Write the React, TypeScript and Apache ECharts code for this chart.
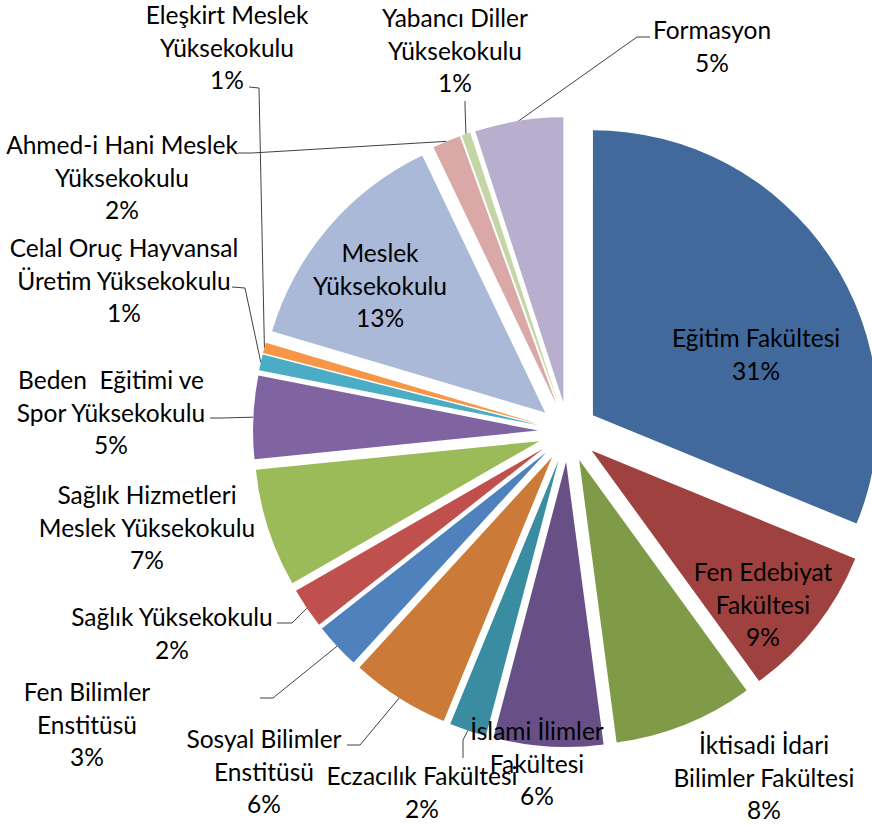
import React, { useEffect, useRef } from "react";
import * as echarts from "echarts";

// Slices clockwise from 12 o'clock
const categories = [
  "Eğitim Fakültesi",
  "Fen Edebiyat\nFakültesi",
  "İktisadi İdari\nBilimler Fakültesi",
  "İslami İlimler\nFakültesi",
  "Eczacılık Fakültesi",
  "Sosyal Bilimler\nEnstitüsü",
  "Fen Bilimler\nEnstitüsü",
  "Sağlık Yüksekokulu",
  "Sağlık Hizmetleri\nMeslek Yüksekokulu",
  "Beden  Eğitimi ve\nSpor Yüksekokulu",
  "Celal Oruç Hayvansal\nÜretim Yüksekokulu",
  "Eleşkirt Meslek\nYüksekokulu",
  "Meslek\nYüksekokulu",
  "Ahmed-i Hani Meslek\nYüksekokulu",
  "Yabancı Diller\nYüksekokulu",
  "Formasyon",
];

// Estimated shares (%)
const shares = [31.2, 8.8, 7.9, 6.2, 2.1, 5.6, 2.6, 2.3, 6.7, 4.7, 0.9, 0.6, 13.3, 1.6, 0.5, 5.0];

const colors = [
  "#41699C", "#9F413E", "#7F9B48", "#685087", "#3A8DA1", "#CB7A37",
  "#4F81BD", "#C0504D", "#9BBB59", "#8064A2", "#4BACC6", "#F79646",
  "#AAB9D7", "#D9A8A7", "#C4D6A6", "#B8AECD",
];

// Layout: label block centres and leader-line offsets (relative to label centre)
const labelCenters: [number, number][] = [
  [756, 354], [763, 604], [764, 777], [537, 763], [422, 792], [264, 771],
  [87, 724], [172, 633], [147, 527], [111, 412], [124, 280], [227, 47],
  [380, 285], [122, 177], [455, 50], [712, 46],
];
const leaders: (number[] | null)[] = [
  null, null, null, null,
  [41, -52, 41, -34],
  [96, -26, 83, -26],
  [186, -26, 173, -26],
  [120, -10, 105, -10],
  null,
  [111, 6, 99, 6],
  [121, 8, 108, 7],
  [32, 41, 22, 40],
  null,
  [130, -24, 116, -24],
  [10, 56, 10, 51],
  [-75, -9, -62, -9],
];

const CENTER = [568, 432];
const R = 285;
const OFFSET = 30;

export default function App() {
  const ref = useRef<HTMLDivElement>(null);
  useEffect(() => {
    if (!ref.current) return;
    const chart = echarts.init(ref.current, undefined, { renderer: "svg" });
    const sliceData = categories.map((name, i) => ({
      name,
      value: shares[i],
      selected: true,
      itemStyle: { color: colors[i] },
    }));
    const labelData = categories.map((name, i) => ({
      name,
      value: shares[i],
      itemStyle: { color: "rgba(0,0,0,0)" },
      labelLine: { show: !!leaders[i] },
    }));
    chart.setOption({
      animation: false,
      backgroundColor: "#fff",
      series: [
        {
          type: "pie",
          center: CENTER,
          radius: R,
          startAngle: 90,
          clockwise: true,
          selectedMode: "multiple",
          selectedOffset: OFFSET,
          silent: true,
          avoidLabelOverlap: false,
          label: { show: false },
          labelLine: { show: false },
          itemStyle: { borderWidth: 0 },
          select: { itemStyle: { borderWidth: 0 } },
          emphasis: { disabled: true },
          data: sliceData,
        },
        {
          type: "pie",
          center: CENTER,
          radius: R + OFFSET,
          startAngle: 90,
          clockwise: true,
          silent: true,
          avoidLabelOverlap: false,
          emphasis: { disabled: true },
          label: {
            show: true,
            position: "outside",
            alignTo: "none",
            color: "#000",
            fontFamily: "Lato",
            fontSize: 24.5,
            lineHeight: 32.5,
            width: 260,
            overflow: "none",
            formatter: (p: any) => `${p.name}\n${Math.round(p.value)}%`,
          },
          labelLine: {
            show: true,
            length: 10,
            length2: 10,
            lineStyle: { color: "#404040", width: 1 },
          },
          labelLayout: (params: any) => {
            const i = params.dataIndex;
            const [x, y] = labelCenters[i];
            const res: any = { x, y, align: "center", verticalAlign: "middle" };
            const l = leaders[i];
            if (l && params.labelLinePoints) {
              const p0 = params.labelLinePoints[0];
              res.labelLinePoints = [
                [p0[0], p0[1]],
                [x + l[0], y + l[1]],
                [x + l[2], y + l[3]],
              ];
            }
            return res;
          },
          data: labelData,
        },
      ],
    });
    return () => chart.dispose();
  }, []);
  return (
    <div
      ref={ref}
      style={{ position: "absolute", left: 0, top: 0, width: 872, height: 826 }}
    />
  );
}
